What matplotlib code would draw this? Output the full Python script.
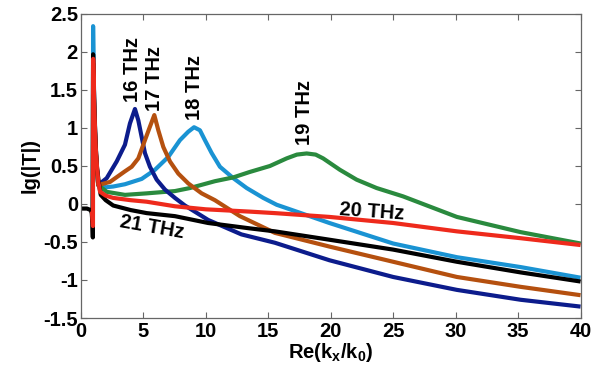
import matplotlib
matplotlib.use("Agg")
import matplotlib.pyplot as plt

plt.rcParams['font.family'] = ['Liberation Sans', 'DejaVu Sans']
plt.rcParams['font.weight'] = 'bold'
plt.rcParams['mathtext.fontset'] = 'custom'
plt.rcParams['mathtext.rm'] = 'Liberation Sans:bold'
plt.rcParams['mathtext.it'] = 'Liberation Sans:bold'
plt.rcParams['mathtext.bf'] = 'Liberation Sans:bold'

# ---- data ----
x16 = [0.97, 0.99, 1.1, 1.2, 1.3, 1.4, 2.08, 2.88, 3.54, 3.94, 4.34, 4.61, 4.88, 5.14, 5.54, 6.08,
       6.74, 7.54, 8.34, 10.2, 12.86, 15.54, 19.9, 25, 30.1, 35.2, 40]
y16 = [-0.1, 1.85, 1.1, 0.7, 0.45, 0.25, 0.34, 0.56, 0.78, 1.06, 1.25, 1.10, 0.88, 0.67, 0.49, 0.32,
       0.19, 0.08, -0.02, -0.21, -0.40, -0.51, -0.74, -0.96, -1.13, -1.26, -1.35]

x17 = [0.97, 0.99, 1.1, 1.2, 1.3, 1.4, 2.34, 3.54, 4.08, 4.61, 5.14, 5.5, 5.89, 6.21, 6.61, 7.14,
       7.81, 8.61, 9.68, 10.74, 12.74, 15.54, 19.9, 25, 30.1, 35.2, 40]
y17 = [-0.1, 1.85, 1.1, 0.7, 0.45, 0.25, 0.29, 0.43, 0.49, 0.60, 0.84, 1.0, 1.17, 0.97, 0.75, 0.56,
       0.40, 0.27, 0.14, 0.05, -0.16, -0.38, -0.56, -0.76, -0.96, -1.09, -1.2]

x18 = [0.97, 0.99, 1.05, 1.15, 1.25, 1.4, 2.0, 2.6, 3.54, 4.88, 5.94, 7.01, 7.94, 8.6, 9.07, 9.54,
       9.94, 10.48, 11.14, 12.21, 13.28, 14.61, 15.68, 16.74, 19.9, 25, 30.1, 35.2, 40]
y18 = [-0.1, 2.34, 1.6, 1.0, 0.6, 0.27, 0.22, 0.23, 0.26, 0.33, 0.45, 0.62, 0.84, 0.95, 1.01, 0.97,
       0.84, 0.67, 0.49, 0.34, 0.21, 0.08, -0.01, -0.07, -0.25, -0.52, -0.70, -0.83, -0.97]

x19 = [0.97, 0.99, 1.1, 1.2, 1.3, 1.4, 2.08, 3.54, 5.28, 7.54, 8.74, 10.74, 12.21, 13.5, 15.14,
       16.48, 17.3, 18.08, 18.8, 19.4, 20.74, 22.08, 23.68, 25.8, 30.1, 35.2, 40]
y19 = [-0.1, 1.85, 1.1, 0.7, 0.45, 0.25, 0.16, 0.12, 0.14, 0.17, 0.21, 0.30, 0.35, 0.42, 0.50,
       0.60, 0.65, 0.665, 0.65, 0.60, 0.45, 0.32, 0.21, 0.10, -0.17, -0.37, -0.52]

x20 = [0.9, 0.98, 1.0, 1.1, 1.2, 1.3, 1.4, 1.55, 2.0, 2.6, 4.0, 5.28, 7.54, 10.0, 13.5, 15.54,
       19.9, 25, 30.1, 35.2, 40]
y20 = [-0.1, -0.29, 1.91, 1.2, 0.75, 0.5, 0.3, 0.16, 0.11, 0.08, 0.05, 0.03, -0.03, -0.07, -0.10,
       -0.12, -0.17, -0.25, -0.36, -0.45, -0.54]

x21 = [0.0, 0.5, 0.8, 0.88, 0.94, 0.97, 0.99, 1.1, 1.2, 1.3, 1.45, 1.6, 2.0, 2.6, 4.0, 5.28,
       7.54, 10.2, 13.5, 15.54, 19.9, 25, 30.1, 35.2, 40]
y21 = [-0.06, -0.06, -0.08, -0.12, -0.25, -0.44, 1.97, 1.2, 0.75, 0.48, 0.28, 0.12, 0.05, -0.02,
       -0.08, -0.12, -0.16, -0.25, -0.32, -0.36, -0.47, -0.60, -0.76, -0.90, -1.02]

labels = ['16 THz', '17 THz', '18 THz', '19 THz', '20 THz', '21 THz']
colors = ['#0c1c8c', '#b5500f', '#1a93d3', '#2a8a3e', '#ee2a1c', '#000000']

xticks = [0, 5, 10, 15, 20, 25, 30, 35, 40]
yticks = [-1.5, -1, -0.5, 0, 0.5, 1, 1.5, 2, 2.5]
ytick_labels = ['-1.5', '-1', '-0.5', '0', '0.5', '1', '1.5', '2', '2.5']

fig = plt.figure(figsize=(6.01, 3.75), dpi=100)
ax = fig.add_axes([0.1343, 0.152, 0.8317, 0.8107])

series = {
    '16 THz': (x16, y16), '17 THz': (x17, y17), '18 THz': (x18, y18),
    '19 THz': (x19, y19), '20 THz': (x20, y20), '21 THz': (x21, y21),
}
order = ['18 THz', '19 THz', '16 THz', '17 THz', '21 THz', '20 THz']
for name in order:
    xs, ys = series[name]
    ax.plot(xs, ys, color=colors[labels.index(name)], lw=3.0, solid_joinstyle='round',
            solid_capstyle='butt')

fs = 14.5
txt = dict(fontsize=fs, fontweight='bold', color='black')
ax.text(4.15, 1.34, '16 THz', rotation=90, ha='center', va='bottom', **txt)
ax.text(5.9, 1.23, '17 THz', rotation=90, ha='center', va='bottom', **txt)
ax.text(9.14, 1.10, '18 THz', rotation=90, ha='center', va='bottom', **txt)
ax.text(17.9, 0.78, '19 THz', rotation=90, ha='center', va='bottom', **txt)
ax.text(23.3, -0.096, '20 THz', rotation=-4, ha='center', va='center', **txt)
ax.text(5.74, -0.31, '21 THz', rotation=-10, ha='center', va='center', **txt)

ax.set_xlim(0, 40)
ax.set_ylim(-1.5, 2.5)
ax.set_xticks(xticks)
ax.set_xticklabels([str(t) for t in xticks])
ax.set_yticks(yticks)
ax.set_yticklabels(ytick_labels)
ax.tick_params(direction='in', length=4, width=0.8, color='#666666', top=True, right=True,
               labelsize=fs)
ax.tick_params(axis='y', pad=2)
ax.tick_params(axis='x', pad=3)
for lab in ax.get_xticklabels() + ax.get_yticklabels():
    lab.set_fontweight('bold')
for sp in ax.spines.values():
    sp.set_color('#666666')
    sp.set_linewidth(0.9)

ax.set_xlabel(r'Re(k$_{\mathrm{x}}$/k$_{\mathrm{0}}$)', fontsize=fs, fontweight='bold', labelpad=0)
ax.set_ylabel('lg(|T|)', fontsize=fs, fontweight='bold', labelpad=3)

fig.savefig('out.png', dpi=100)
